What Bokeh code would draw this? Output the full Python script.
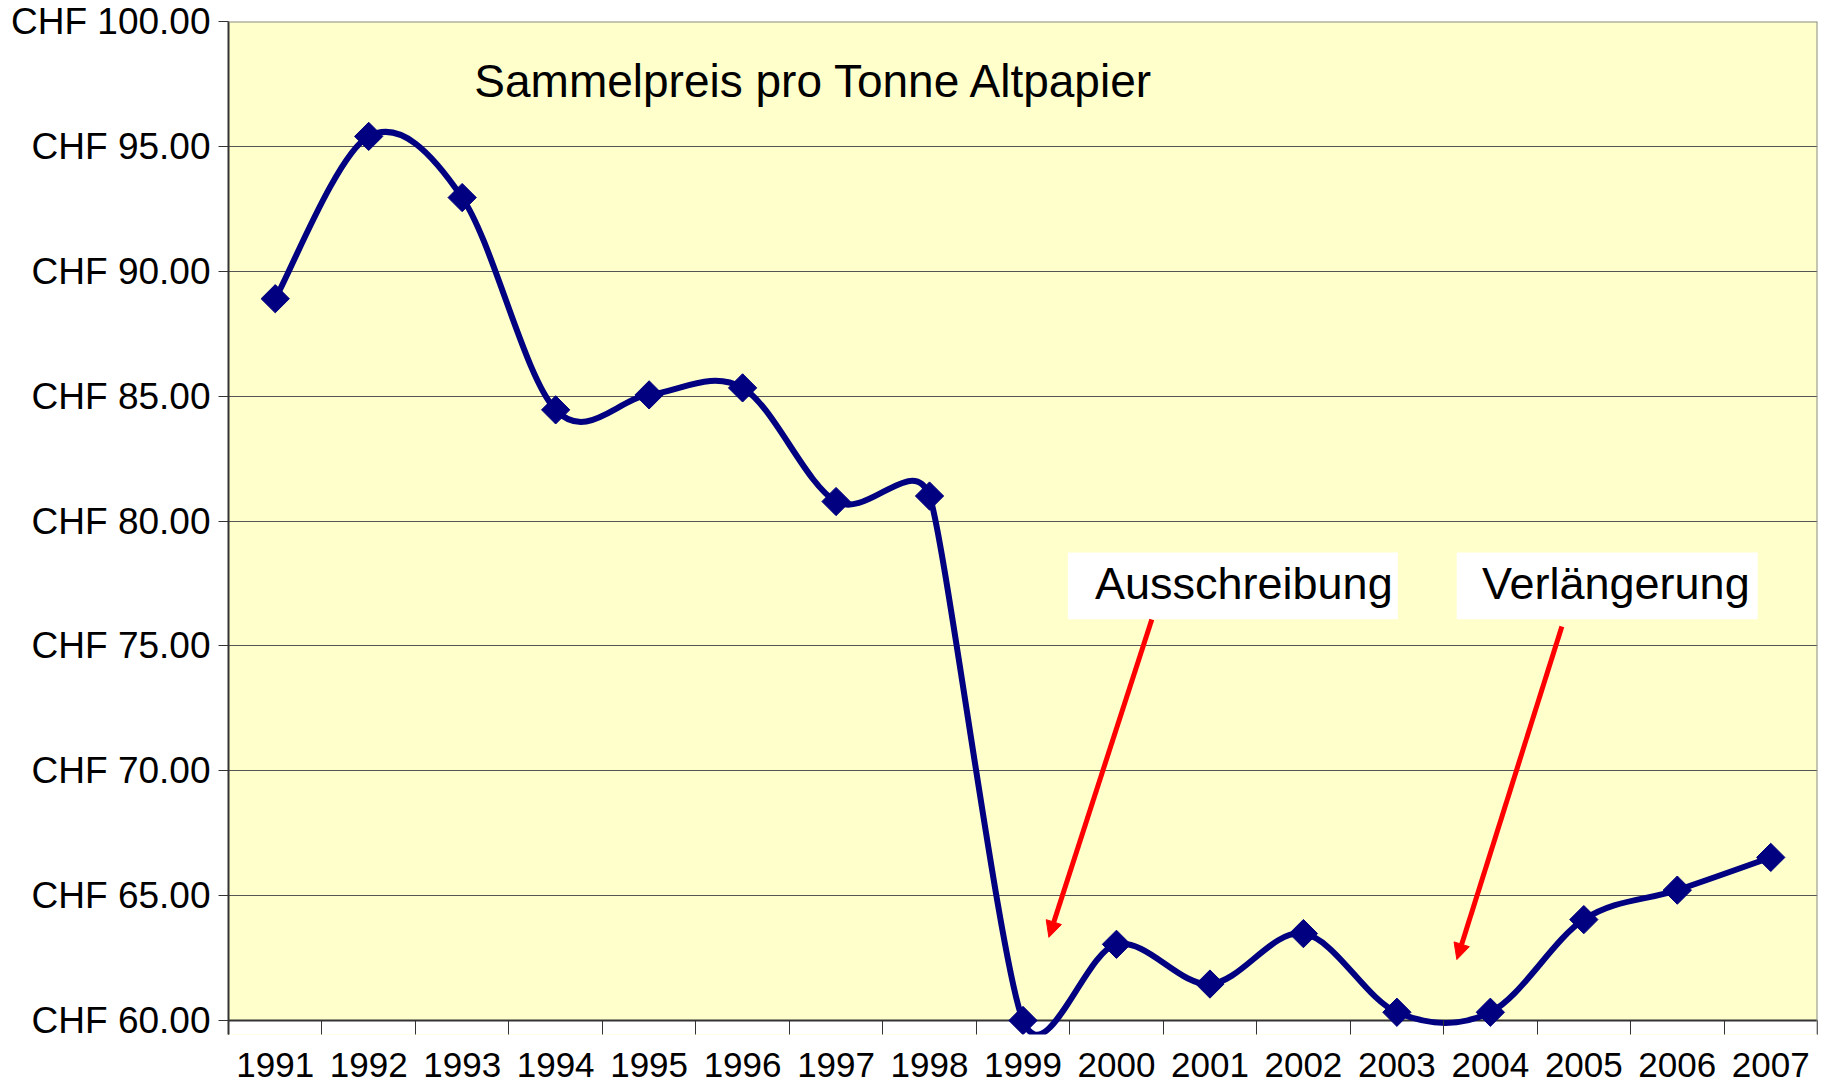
import math
from bokeh.plotting import figure
from bokeh.models import (FixedTicker, PrintfTickFormatter, Label, BoxAnnotation,
                          Arrow, NormalHead, ColumnDataSource, Range1d, Span)
from bokeh.embed import file_html
from bokeh.resources import INLINE

# ---- data ----
years = [1991, 1992, 1993, 1994, 1995, 1996, 1997, 1998, 1999,
         2000, 2001, 2002, 2003, 2004, 2005, 2006, 2007]
prices = [88.90, 95.40, 92.95, 84.45, 85.05, 85.33, 80.78, 81.00, 60.00,
          63.05, 61.46, 63.48, 60.33, 60.33, 64.04, 65.22, 66.53]
y_ticks = [60, 65, 70, 75, 80, 85, 90, 95, 100]
title_text = "Sammelpreis pro Tonne Altpapier"
note_left = "Ausschreibung"
note_right = "Verlängerung"

FONT = "Liberation Sans"
NAVY = "#000080"
AXIS = "#333333"
BORDER = "#8c8c8c"

BL, BT, BR, BB = 228, 21, 8, 50
FW = 1589                 # frame width (px)
PX_PER_CHF = 999 / 40.0
BELOW = 14                # px of frame kept below the CHF 60 axis line
FH = 999 + BELOW

x0r, x1r = years[0] - 0.5, years[-1] + 0.5
y1r = 100
y0r = 60 - BELOW / PX_PER_CHF

p = figure(frame_width=FW, frame_height=FH, output_backend="svg",
           toolbar_location=None,
           x_range=Range1d(x0r, x1r), y_range=Range1d(y0r, y1r),
           min_border_left=BL, min_border_right=BR, min_border_top=BT,
           min_border_bottom=BB)
p.background_fill_color = "#FFFFCC"
p.border_fill_color = "white"
p.outline_line_color = None

# white strip below the CHF 60 axis (the curve dips into it)
p.add_layout(BoxAnnotation(top=60, fill_color="white", fill_alpha=1,
                           line_alpha=0, level="underlay"))
# axis line at CHF 60, plot border on top and right
p.add_layout(Span(location=60, dimension="width", line_color=AXIS,
                  line_width=2, level="underlay"))
p.add_layout(Span(location=y1r, dimension="width", line_color=BORDER,
                  line_width=2))
p.add_layout(Span(location=x1r, dimension="height", line_color=BORDER,
                  line_width=2))

# y axis
p.yaxis.ticker = FixedTicker(ticks=y_ticks)
p.yaxis.formatter = PrintfTickFormatter(format="CHF %.2f")
p.yaxis.major_label_text_font = FONT
p.yaxis.major_label_text_font_size = "37px"
p.yaxis.major_label_text_color = "black"
p.yaxis.major_tick_out = 10
p.yaxis.major_tick_in = 0
p.yaxis.minor_tick_out = 0
p.yaxis.minor_tick_in = 0
p.yaxis.major_label_standoff = 8
p.yaxis.axis_line_color = AXIS
p.yaxis.axis_line_width = 2
p.yaxis.major_tick_line_color = AXIS

# x axis: labels at the years, ticks between them reaching up to CHF 60
boundaries = [y - 0.5 for y in years] + [years[-1] + 0.5]
xa = p.xaxis[0]
xa.ticker = FixedTicker(ticks=years, minor_ticks=boundaries)
xa.formatter = PrintfTickFormatter(format="%d")
xa.major_label_text_font = FONT
xa.major_label_text_font_size = "35px"
xa.major_label_text_color = "black"
xa.major_tick_out = 0
xa.major_tick_in = 0
xa.minor_tick_out = 0
xa.minor_tick_in = BELOW
xa.minor_tick_line_color = AXIS
xa.minor_tick_line_width = 1
xa.major_label_standoff = 18
xa.axis_line_color = None

p.xgrid.visible = False
p.ygrid.grid_line_color = "#555555"
p.ygrid.grid_line_width = 1

# ---- smoothed line (Bezier segments, control points from the data) ----
sx = FW / (x1r - x0r)
sy = FH / (y1r - y0r)
pts = [(x * sx, y * sy) for x, y in zip(years, prices)]
n = len(pts)


def arm(i):
    P0 = pts[max(i - 1, 0)]
    P1 = pts[i]
    P2 = pts[min(i + 1, n - 1)]
    vx, vy = (P2[0] - P0[0]) / 6.0, (P2[1] - P0[1]) / 6.0
    segs = []
    if i > 0:
        segs.append(math.hypot(P1[0] - P0[0], P1[1] - P0[1]))
    if i < n - 1:
        segs.append(math.hypot(P2[0] - P1[0], P2[1] - P1[1]))
    cap = 0.5 * min(segs)
    L = math.hypot(vx, vy)
    if L > cap and L > 0:
        vx, vy = vx * cap / L, vy * cap / L
    return vx, vy


arms = [arm(i) for i in range(n)]
bz = dict(x0=[], y0=[], x1=[], y1=[], cx0=[], cy0=[], cx1=[], cy1=[])
for i in range(n - 1):
    a, b = pts[i], pts[i + 1]
    va, vb = arms[i], arms[i + 1]
    bz["x0"].append(a[0] / sx); bz["y0"].append(a[1] / sy)
    bz["x1"].append(b[0] / sx); bz["y1"].append(b[1] / sy)
    bz["cx0"].append((a[0] + va[0]) / sx); bz["cy0"].append((a[1] + va[1]) / sy)
    bz["cx1"].append((b[0] - vb[0]) / sx); bz["cy1"].append((b[1] - vb[1]) / sy)

p.bezier(x0="x0", y0="y0", x1="x1", y1="y1", cx0="cx0", cy0="cy0",
         cx1="cx1", cy1="cy1", source=ColumnDataSource(bz),
         line_color=NAVY, line_width=6, line_cap="round")

p.scatter(x=years, y=prices, marker="square", angle=math.pi / 4, size=20,
          fill_color=NAVY, line_color=NAVY)

# ---- title ----
p.add_layout(Label(x=1993.13, y=97.62, text=title_text, text_font=FONT,
                   text_font_size="46px", text_color="black",
                   text_baseline="alphabetic", text_align="left"))

# ---- annotations ----
p.add_layout(BoxAnnotation(left=1999.48, right=2003.01, bottom=76.07, top=78.74,
                           fill_color="white", fill_alpha=1, line_alpha=0))
p.add_layout(BoxAnnotation(left=2003.64, right=2006.86, bottom=76.07, top=78.74,
                           fill_color="white", fill_alpha=1, line_alpha=0))
p.add_layout(Label(x=1999.77, y=77.50, text=note_left, text_font=FONT,
                   text_font_size="45px", text_color="black",
                   text_baseline="alphabetic"))
p.add_layout(Label(x=2003.91, y=77.50, text=note_right, text_font=FONT,
                   text_font_size="45px", text_color="black",
                   text_baseline="alphabetic"))

for (xs, ys, xe, ye) in [(2000.378, 76.06, 1999.277, 63.33),
                         (2004.765, 75.78, 2003.642, 62.44)]:
    p.add_layout(Arrow(x_start=xs, y_start=ys, x_end=xe, y_end=ye,
                       line_color="red", line_width=5,
                       end=NormalHead(size=16, fill_color="red",
                                      line_color="red", line_width=1)))

open("out.html", "w").write(file_html(p, INLINE))
